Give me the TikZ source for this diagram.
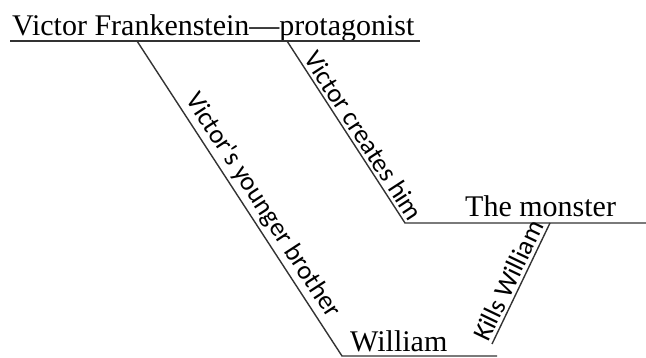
\documentclass[tikz,border=0pt]{standalone}
\usepackage{fontspec}
\setmainfont{Liberation Serif}
\newfontfamily\labelfont{Carlito}
\usetikzlibrary{positioning}

\begin{document}
\begin{tikzpicture}[
  x=1pt, y=-1pt,
  rule/.style={draw=black!80, line width=1.4pt},
  subject/.style={font=\fontsize{30}{36}\selectfont, anchor=base west, inner sep=0pt},
  rel/.style={font=\labelfont\fontsize{26.5}{30}\selectfont, sloped, above, inner sep=3pt}]
\useasboundingbox (0,0) rectangle (646,358);
% subject lines
\node[subject] (victor) at (12,36) {Victor Frankenstein---protagonist};
\node[subject] (monster) at (465,217) {The monster};
\node[subject] (william) at (350,352) {William};
\coordinate (victorL) at (10,41);
\coordinate (victorR) at (420,41);
\coordinate (broTop) at (137,41);
\coordinate (broBot) at (342,356);
\coordinate (williamR) at (497,356);
\coordinate (creTop) at (287,41);
\coordinate (creBot) at (405,223);
\coordinate (monsterR) at (646,223);
\coordinate (killTop) at (550,223);
\coordinate (killBot) at (492,344);
\draw[rule] (victorL) -- (victorR);
\draw[rule] (broTop) -- node[rel, pos=0.55] {Victor's younger brother} (broBot) -- (williamR);
\draw[rule] (creTop) -- node[rel, pos=0.56] {Victor creates him} (creBot) -- (monsterR);
\draw[rule] (killBot) -- node[rel, pos=0.48] {Kills William} (killTop);
\end{tikzpicture}
\end{document}
